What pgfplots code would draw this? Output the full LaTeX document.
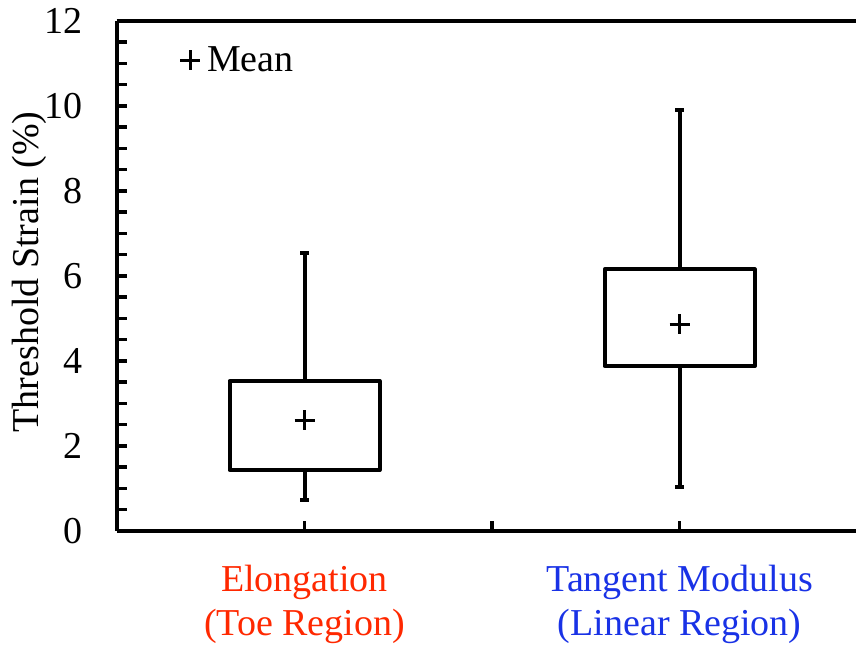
\documentclass[border=0pt]{standalone}
\usepackage{pgfplots}
\pgfplotsset{compat=1.18}
\usepgfplotslibrary{statistics}
\usepackage{fontspec}
\setmainfont{Liberation Serif}
\definecolor{toered}{RGB}{255,40,0}
\definecolor{linblue}{RGB}{25,50,230}
\newcommand{\chartfont}{\fontsize{38}{44}\selectfont}

\begin{document}
\begin{tikzpicture}
\begin{axis}[
  anchor=south west, at={(0pt,0pt)},
  scale only axis, width=739pt, height=510pt,
  xmin=0.5, xmax=2.47, ymin=0, ymax=12,
  axis x line=box, axis y line=left,
  axis line style={-, line width=4.5pt, black},
  tick align=inside,
  xtick={1,1.5,2}, xtick pos=bottom,
  xticklabels={{\textcolor{toered}{Elongation}\\\textcolor{toered}{(Toe Region)}},{},{\textcolor{linblue}{Tangent Modulus}\\\textcolor{linblue}{(Linear Region)}}},
  ytick={0,2,...,12}, minor y tick num=3, ytick pos=left,
  major tick length=10pt, minor tick length=10pt,
  tick style={line width=3.5pt, black},
  ticklabel style={font=\chartfont, inner sep=0pt},
  yticklabel style={xshift=-34pt},
  xticklabel style={align=center, yshift=-34pt},
  /pgf/number format/assume math mode=true,
  ylabel={Threshold Strain (\%)},
  ylabel style={font=\chartfont, at={(axis description cs:-0.1180,0.508)}, anchor=center},
  legend style={draw=none, fill=none, font=\chartfont, at={(axis description cs:0.0812,0.9235)}, anchor=west, nodes={inner sep=0pt}, column sep=7pt},
  legend image code/.code={\draw[#1] plot coordinates {(10pt,0pt)};},
  boxplot/draw direction=y,
]
% Elongation (toe region)
\addplot[black, line width=4pt, line join=round, forget plot,
  boxplot prepared={draw position=1, lower whisker=0.73, lower quartile=1.435,
    median=1.435, upper quartile=3.53, upper whisker=6.54,
    box extend=0.4, whisker extend=0.024}] coordinates {};
% Tangent modulus (linear region)
\addplot[black, line width=4pt, line join=round, forget plot,
  boxplot prepared={draw position=2, lower whisker=1.04, lower quartile=3.88,
    median=3.88, upper quartile=6.16, upper whisker=9.91,
    box extend=0.4, whisker extend=0.024}] coordinates {};
% Means
\addplot[only marks, mark=+, mark size=10pt, line width=3pt, black]
  coordinates {(1,2.61) (2,4.87)};
\addlegendentry{Mean}
\end{axis}
\pgfresetboundingbox
\path[use as bounding box] (-117pt,-116pt) rectangle (739pt,531pt);
\end{tikzpicture}
\end{document}
